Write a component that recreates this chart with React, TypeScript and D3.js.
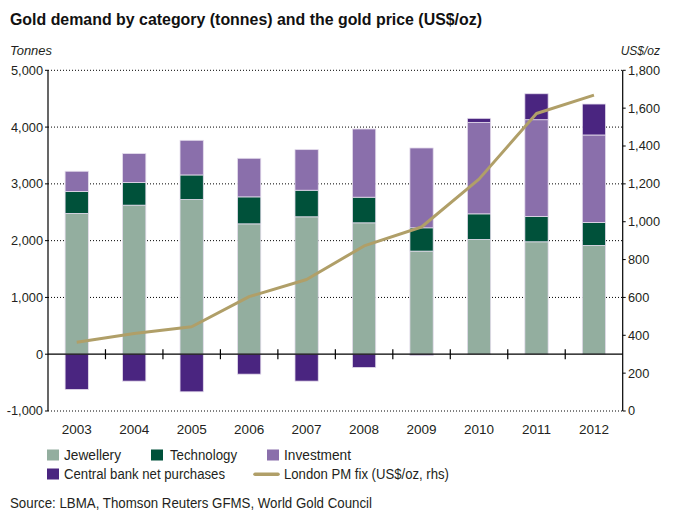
import React from "react";
import * as d3 from "d3";

const years = ["2003", "2004", "2005", "2006", "2007", "2008", "2009", "2010", "2011", "2012"];
const jewellery = [2480, 2625, 2724, 2296, 2420, 2314, 1816, 2021, 1980, 1916];
const technology = [385, 398, 433, 475, 468, 451, 410, 451, 445, 404];
const investment = [357, 510, 610, 679, 715, 1201, 1406, 1611, 1705, 1541];
const centralBank = [-621, -474, -662, -351, -474, -234, -23, 71, 457, 545];
const price = [363, 409, 445, 604, 695, 872, 972, 1225, 1572, 1669];
const leftTicks = [-1000, 0, 1000, 2000, 3000, 4000, 5000];
const rightTicks = [0, 200, 400, 600, 800, 1000, 1200, 1400, 1600, 1800];

const C = {
  jew: "#93ae9f",
  tech: "#00513a",
  inv: "#8a6fab",
  cb: "#4a2580",
  line: "#b09f68",
  text: "#231f20",
};

const FONT = "'Liberation Sans', Arial, sans-serif";

export default function App() {
  const W = 673, H = 524;
  const x0 = 48, x1 = 622.7;
  const yTop = 70.3, yBot = 411;
  const x = d3.scaleBand<string>().domain(years).range([x0, x1]).paddingInner(0.595).paddingOuter(0.2975);
  const band = d3.scaleBand<string>().domain(years).range([x0, x1]);
  const y = d3.scaleLinear().domain([-1000, 5000]).range([yBot, yTop]);
  const yR = d3.scaleLinear().domain([0, 1800]).range([yBot, yTop]);
  const fmt = (v: number) => d3.format(",")(v).replace("\u2212", "-");

  const segs: { key: string; x: number; y0: number; y1: number; fill: string }[] = [];
  years.forEach((yr, i) => {
    const a = jewellery[i];
    const b = a + technology[i];
    const c = b + investment[i];
    segs.push({ key: yr + "j", x: x(yr)!, y0: 0, y1: a, fill: C.jew });
    segs.push({ key: yr + "t", x: x(yr)!, y0: a, y1: b, fill: C.tech });
    segs.push({ key: yr + "i", x: x(yr)!, y0: b, y1: c, fill: C.inv });
    if (centralBank[i] >= 0) segs.push({ key: yr + "c", x: x(yr)!, y0: c, y1: c + centralBank[i], fill: C.cb });
    else segs.push({ key: yr + "c", x: x(yr)!, y0: centralBank[i], y1: 0, fill: C.cb });
  });

  const line = d3
    .line<number>()
    .x((_, i) => band(years[i])! + band.bandwidth() / 2)
    .y((d) => yR(d));

  const bw = x.bandwidth();

  return (
    <svg width={W} height={H} style={{ position: "absolute", left: 0, top: 0, fontFamily: FONT }}>
      <rect width={W} height={H} fill="#fff" />
      <text x={10} y={25} fontSize={16.5} fontWeight="bold" fill="#111" textLength={472} lengthAdjust="spacingAndGlyphs">
        Gold demand by category (tonnes) and the gold price (US$/oz)
      </text>
      <text x={10} y={55} fontSize={12} fontStyle="italic" fill={C.text} textLength={42} lengthAdjust="spacingAndGlyphs">Tonnes</text>
      <text x={660} y={55} fontSize={12} fontStyle="italic" fill={C.text} textAnchor="end">US$/oz</text>

      {leftTicks.filter((t) => t !== 0).map((t) => (
        <line key={"g" + t} x1={x0} x2={x1} y1={y(t)} y2={y(t)} stroke="#000" strokeWidth={1} strokeDasharray="1,2" />
      ))}

      {segs.map((s) => (
        <rect key={s.key} x={s.x} width={bw} y={y(s.y1)} height={Math.max(0, y(s.y0) - y(s.y1))} fill={s.fill} stroke="#e4dcec" strokeWidth={0.8} />
      ))}

      <line x1={x0} x2={x1} y1={y(0)} y2={y(0)} stroke="#000" strokeWidth={1.2} />
      {years.slice(1).map((yr) => (
        <line key={"tk" + yr} x1={band(yr)!} x2={band(yr)!} y1={y(0) - 5} y2={y(0) + 5} stroke="#000" strokeWidth={1.2} />
      ))}

      <line x1={x0} x2={x0} y1={yTop} y2={yBot} stroke="#000" strokeWidth={1.2} />
      <line x1={x1} x2={x1} y1={yTop} y2={yBot} stroke="#000" strokeWidth={1.2} />
      {leftTicks.map((t) => (
        <line key={"lt" + t} x1={x0 - 3} x2={x0} y1={y(t)} y2={y(t)} stroke="#000" strokeWidth={1} />
      ))}
      {rightTicks.map((t) => (
        <line key={"rt" + t} x1={x1} x2={x1 + 3} y1={yR(t)} y2={yR(t)} stroke="#000" strokeWidth={1} />
      ))}

      <path d={line(price) || ""} fill="none" stroke={C.line} strokeWidth={3} strokeLinejoin="round" />

      {leftTicks.map((t) => (
        <text key={"ll" + t} x={43} y={y(t)} dy="0.35em" fontSize={12.8} textAnchor="end" fill={C.text}>
          {fmt(t)}
        </text>
      ))}
      {rightTicks.map((t) => (
        <text key={"rl" + t} x={628} y={yR(t)} dy="0.35em" fontSize={12.8} fill={C.text}>
          {fmt(t)}
        </text>
      ))}
      {years.map((yr) => (
        <text key={"yl" + yr} x={band(yr)! + band.bandwidth() / 2} y={434} fontSize={13.5} textAnchor="middle" fill={C.text}>
          {yr}
        </text>
      ))}

      <g fontSize={14} fill={C.text}>
        <rect x={47} y={449.5} width={12} height={11} fill={C.jew} />
        <text x={64} y={460} textLength={57} lengthAdjust="spacingAndGlyphs">Jewellery</text>
        <rect x={151} y={449.5} width={12} height={11} fill={C.tech} />
        <text x={170} y={460} textLength={67} lengthAdjust="spacingAndGlyphs">Technology</text>
        <rect x={267} y={449.5} width={12} height={11} fill={C.inv} />
        <text x={284} y={460} textLength={67} lengthAdjust="spacingAndGlyphs">Investment</text>
        <rect x={47} y={468.5} width={12} height={11} fill={C.cb} />
        <text x={64} y={479} textLength={161} lengthAdjust="spacingAndGlyphs">Central bank net purchases</text>
        <line x1={255} x2={278} y1={474.3} y2={474.3} stroke={C.line} strokeWidth={3.5} strokeLinecap="round" />
        <text x={284} y={479} textLength={165} lengthAdjust="spacingAndGlyphs">London PM fix (US$/oz, rhs)</text>
      </g>
      <text x={10} y={507.5} fontSize={14} fill={C.text} textLength={362} lengthAdjust="spacingAndGlyphs">
        Source: LBMA, Thomson Reuters GFMS, World Gold Council
      </text>
    </svg>
  );
}
